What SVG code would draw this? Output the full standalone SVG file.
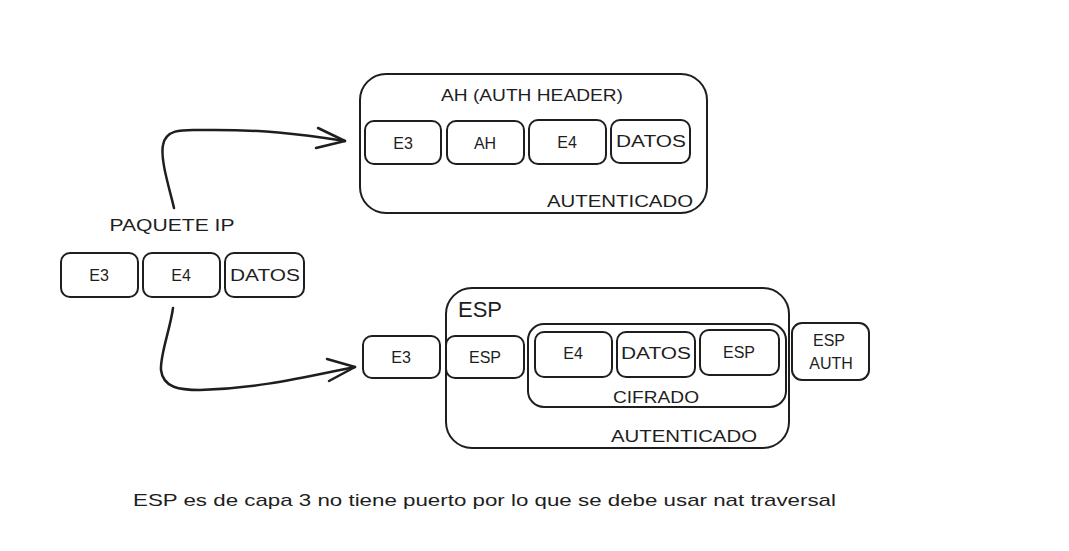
<svg xmlns="http://www.w3.org/2000/svg" width="1069" height="551" viewBox="0 0 1069 551">
<defs>
<style>
.b{fill:none;stroke:#1e1e1e;stroke-width:2;stroke-linejoin:round;stroke-linecap:round}
.t{font-family:"Liberation Sans",Arial,sans-serif;font-size:16px;fill:#1e1e1e;text-anchor:middle;dominant-baseline:central}
.c{fill:none;stroke:#1e1e1e;stroke-width:2.5;stroke-linecap:round;stroke-linejoin:round}
</style>
</defs>
<rect width="1069" height="551" fill="#ffffff"/>

<g id="ah-group">
<rect class="b" x="360" y="74" width="347" height="139" rx="26"/>
<text class="t" x="532" y="95" textLength="182" lengthAdjust="spacingAndGlyphs">AH (AUTH HEADER)</text>
<text class="t" x="620" y="201" textLength="146" lengthAdjust="spacingAndGlyphs">AUTENTICADO</text>
</g>
<g id="ah-e3"><rect class="b" x="365" y="121" width="76" height="43" rx="9"/><text class="t" x="403" y="143">E3</text></g>
<g id="ah-ah"><rect class="b" x="447" y="121" width="77" height="43" rx="9"/><text class="t" x="485" y="143">AH</text></g>
<g id="ah-e4"><rect class="b" x="529" y="120" width="77" height="44" rx="9"/><text class="t" x="567" y="142">E4</text></g>
<g id="ah-datos"><rect class="b" x="611" y="120" width="79" height="43" rx="9"/><text class="t" x="651" y="141" textLength="70" lengthAdjust="spacingAndGlyphs">DATOS</text></g>

<g id="paquete-ip">
<text class="t" x="172" y="225" textLength="125" lengthAdjust="spacingAndGlyphs">PAQUETE IP</text>
</g>
<g id="ip-e3"><rect class="b" x="61" y="253" width="77" height="44" rx="9"/><text class="t" x="99" y="275">E3</text></g>
<g id="ip-e4"><rect class="b" x="143" y="253" width="77" height="44" rx="9"/><text class="t" x="181" y="275">E4</text></g>
<g id="ip-datos"><rect class="b" x="225" y="253" width="79" height="44" rx="9"/><text class="t" x="265" y="275" textLength="70" lengthAdjust="spacingAndGlyphs">DATOS</text></g>

<g id="esp-group">
<rect class="b" x="446" y="288" width="343" height="160" rx="26"/>
<text x="458" y="317" style="font-family:'Liberation Sans',Arial,sans-serif;font-size:22px;fill:#1e1e1e">ESP</text>
<text class="t" x="684" y="436" textLength="146" lengthAdjust="spacingAndGlyphs">AUTENTICADO</text>
</g>
<g id="cifrado-group">
<rect class="b" x="528" y="324" width="258" height="83" rx="16"/>
<text class="t" x="656" y="397" textLength="86" lengthAdjust="spacingAndGlyphs">CIFRADO</text>
</g>
<g id="esp-e3"><rect class="b" x="363" y="336" width="77" height="42" rx="9"/><text class="t" x="401" y="357">E3</text></g>
<g id="esp-esp"><rect class="b" x="446" y="336" width="78" height="42" rx="9"/><text class="t" x="485" y="357">ESP</text></g>
<g id="esp-e4"><rect class="b" x="535" y="332" width="77" height="45" rx="9"/><text class="t" x="573" y="353">E4</text></g>
<g id="esp-datos"><rect class="b" x="617" y="332" width="78" height="45" rx="9"/><text class="t" x="656" y="353" textLength="70" lengthAdjust="spacingAndGlyphs">DATOS</text></g>
<g id="esp-trailer"><rect class="b" x="700" y="330" width="79" height="45" rx="9"/><text class="t" x="739" y="352">ESP</text></g>
<g id="esp-auth"><rect class="b" x="792" y="323" width="77" height="57" rx="10"/><text class="t" x="829" y="340">ESP</text><text class="t" x="831" y="363">AUTH</text></g>

<g id="note">
<text x="133" y="506" textLength="703" lengthAdjust="spacingAndGlyphs" style="font-family:'Liberation Sans',Arial,sans-serif;font-size:17px;fill:#1e1e1e">ESP es de capa 3 no tiene puerto por lo que se debe usar nat traversal</text>
</g>

<g id="connectors">
<path class="c" d="M174 208 C 170 190, 160 160, 163 145 C 166 128, 185 130, 200 130 C 260 129, 300 134, 345 141"/>
<path class="c" d="M318 128 L345 141 L316 148"/>
<path class="c" d="M173 308 C 170 330, 160 355, 161 370 C 163 388, 180 390, 200 390 C 260 388, 300 378, 355 367"/>
<path class="c" d="M327 359 L355 367 L329 381"/>
</g>
</svg>
